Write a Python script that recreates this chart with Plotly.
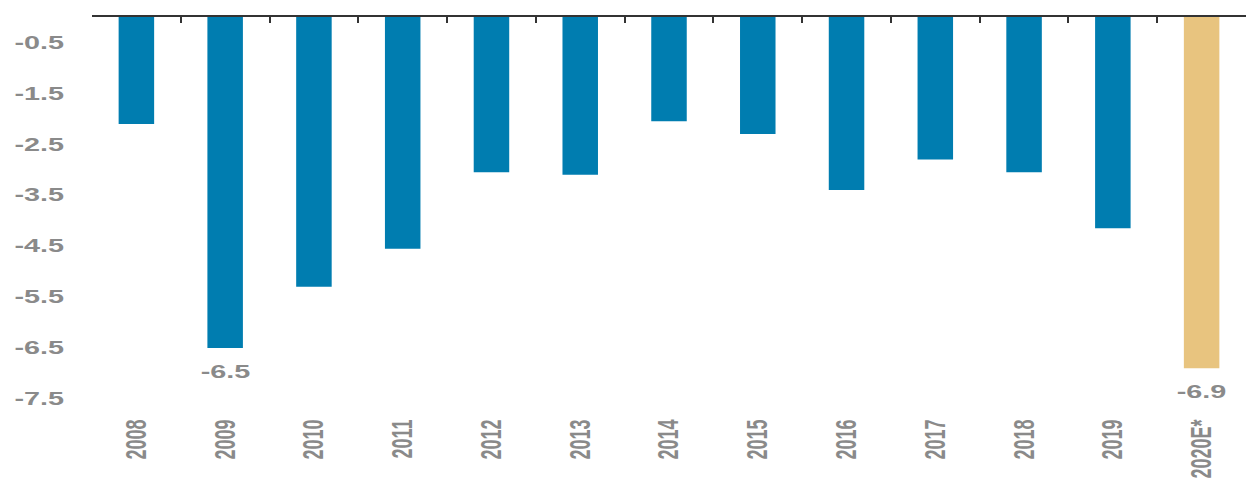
import plotly.graph_objects as go

# Fiscal balance by year (% of GDP); the last year is an estimate
years = ["2008", "2009", "2010", "2011", "2012", "2013", "2014",
         "2015", "2016", "2017", "2018", "2019", "2020E*"]
balance = [-2.1, -6.5, -5.3, -4.55, -3.05, -3.1, -2.05,
           -2.3, -3.4, -2.8, -3.05, -4.15, -6.9]
labelled = ["2009", "2020E*"]
y_ticks = [-0.5, -1.5, -2.5, -3.5, -4.5, -5.5, -6.5, -7.5]

BLUE = "#007db0"
GOLD = "#e8c47f"
GREY = "#8a8a8a"
FONT = "Liberation Sans"
TEXT_FONT = dict(family=FONT, size=18, color=GREY, weight="bold")

colors = [GOLD if y.endswith("E*") else BLUE for y in years]

fig = go.Figure()
fig.add_trace(go.Bar(x=years, y=balance, marker=dict(color=colors, line=dict(width=0)),
                     showlegend=False, hoverinfo="x+y"))
# carrier trace for the top axis line with boundary ticks
fig.add_trace(go.Scatter(x=years, y=[None] * len(years), xaxis="x2", mode="none",
                         showlegend=False, hoverinfo="skip"))

for i, (yr, val) in enumerate(zip(years, balance)):
    if yr in labelled:
        fig.add_annotation(x=i, y=val, text=f"{val:.1f}", showarrow=False,
                           yshift=-24, font=TEXT_FONT)

fig.update_layout(
    width=1249, height=479,
    margin=dict(l=92, r=3, t=16.5, b=70.2),
    paper_bgcolor="white", plot_bgcolor="white",
    bargap=0.6,
    xaxis=dict(type="category", categoryarray=years, range=[-0.5, len(years) - 0.5],
               showline=False, showgrid=False, zeroline=False, ticks="",
               tickangle=-90, tickfont=TEXT_FONT,
               ticklabelstandoff=6, automargin=False),
    xaxis2=dict(type="category", categoryarray=years, range=[-0.5, len(years) - 0.5],
                overlaying="x", side="top", anchor="y", automargin=False,
                showline=True, linecolor="#333333", linewidth=2,
                ticks="inside", tickson="boundaries", ticklen=6, tickwidth=2,
                tickcolor="#333333", showticklabels=False, showgrid=False),
    yaxis=dict(range=[-7.7, 0], tickvals=y_ticks, ticktext=[f"{v:.1f}" for v in y_ticks],
               showgrid=False, zeroline=False, showline=False, ticks="",
               tickfont=TEXT_FONT, ticklabelstandoff=27, automargin=False),
)

# widen the lettering horizontally (y labels keep their right edge, others their centre)
stretch_js = """
var gd = document.getElementById('{plot_id}');
var svg = gd.querySelector('svg.main-svg');
function widen(sel, anchor) {
  gd.querySelectorAll(sel).forEach(function (t) {
    var r = t.getBoundingClientRect();
    var sx = anchor === 'end' ? r.right : (r.left + r.right) / 2;
    var p = svg.createSVGPoint();
    p.x = sx; p.y = r.top;
    var q = p.matrixTransform(t.parentNode.getScreenCTM().inverse());
    var old = t.getAttribute('transform') || '';
    t.setAttribute('transform', 'translate(' + q.x + ',0) scale(1.6,1) translate(' + (-q.x) + ',0) ' + old);
  });
}
widen('g.ytick text', 'end');
widen('g.xtick text', 'mid');
widen('text.annotation-text', 'mid');
"""

fig.write_html("out.html", post_script=stretch_js)
